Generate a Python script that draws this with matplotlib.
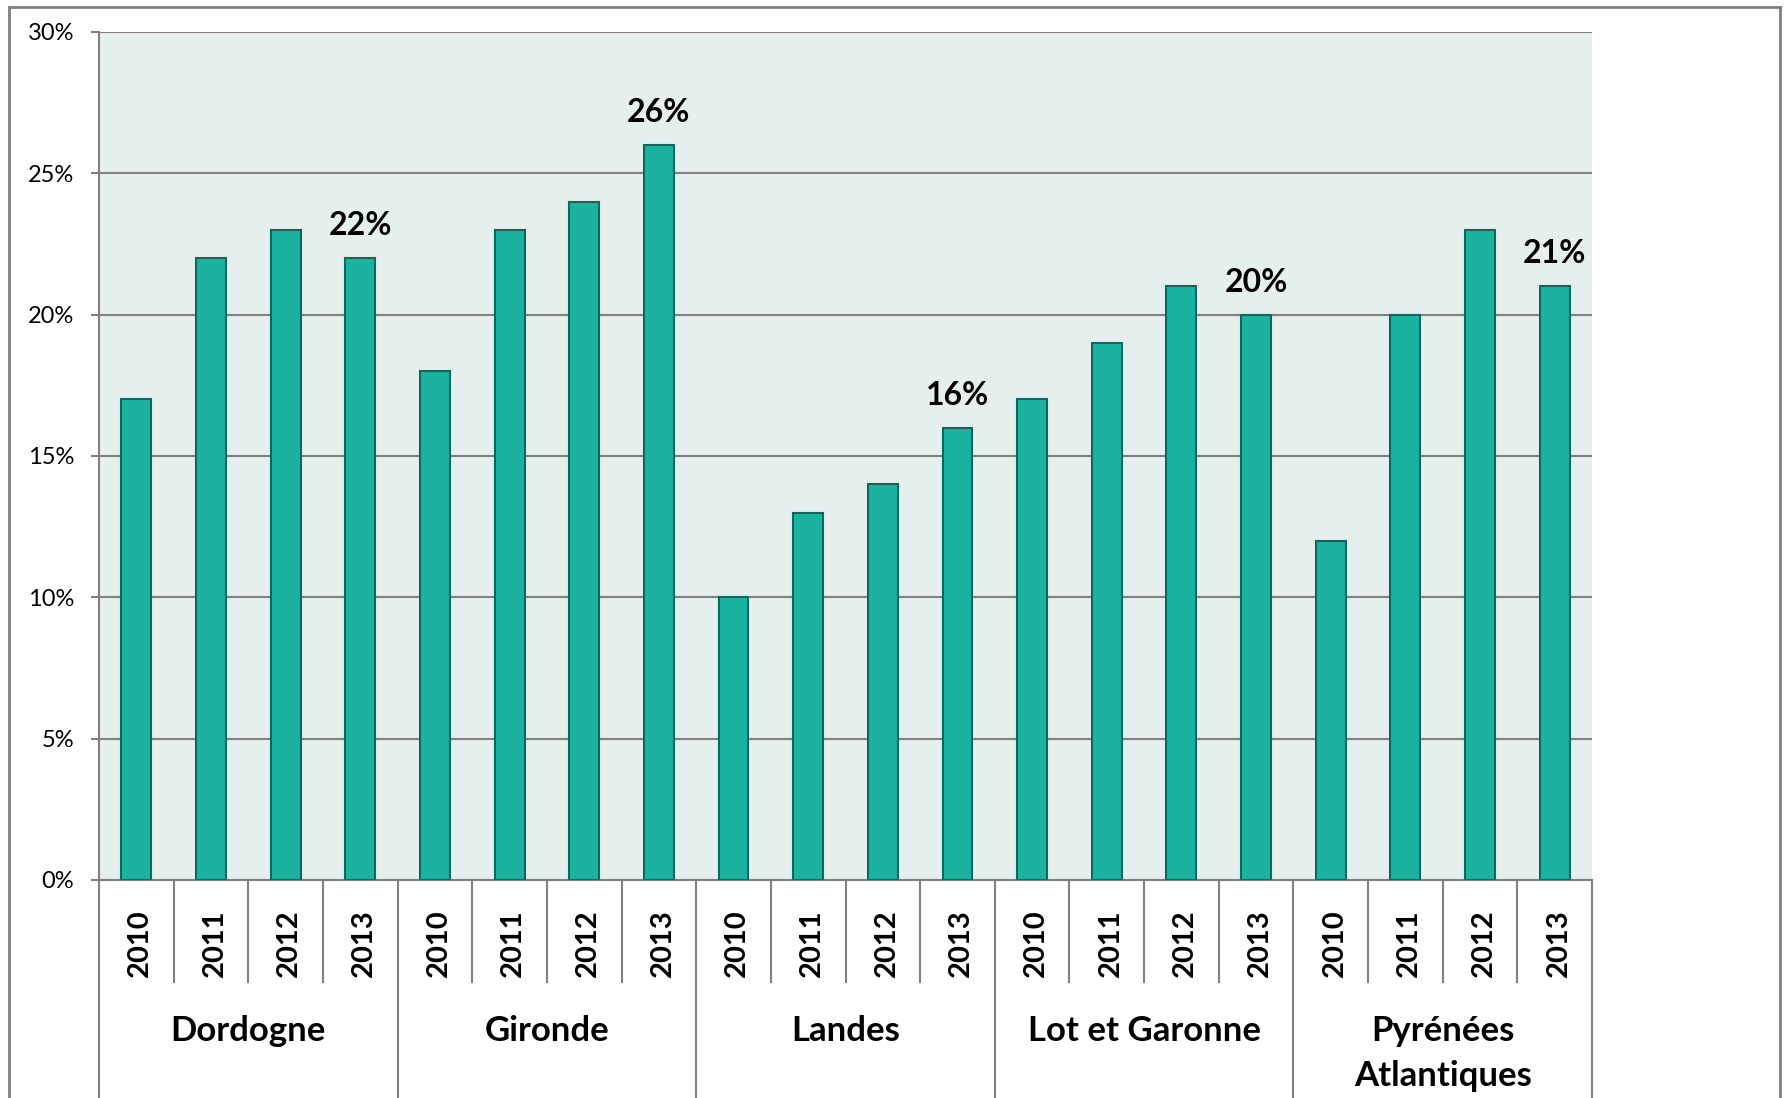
import matplotlib
matplotlib.use("Agg")
import matplotlib.pyplot as plt
from matplotlib.lines import Line2D
import numpy as np

plt.rcParams['font.family'] = ['Lato', 'DejaVu Sans']

departments = ["Dordogne", "Gironde", "Landes", "Lot et Garonne", "Pyrénées\nAtlantiques"]
years = ["2010", "2011", "2012", "2013"]
dordogne = [17, 22, 23, 22]
gironde = [18, 23, 24, 26]
landes = [10, 13, 14, 16]
lot_et_garonne = [17, 19, 21, 20]
pyrenees_atlantiques = [12, 20, 23, 21]
series = [dordogne, gironde, landes, lot_et_garonne, pyrenees_atlantiques]
yticks = [0, 5, 10, 15, 20, 25, 30]

W, H = 1789, 1098
fig = plt.figure(figsize=(W / 100, H / 100), dpi=100)
fig.patch.set_facecolor("white")

left_px, right_px, top_px, zero_px = 99, 1592, 32, 880
ax = fig.add_axes([left_px / W, 1 - zero_px / H, (right_px - left_px) / W, (zero_px - top_px) / H])
ax.set_facecolor("#e5f0ee")

values = [v for s in series for v in s]
x = np.arange(len(values))
bar_color = "#1bb39f"
edge_color = "#0c6a5c"
ax.bar(x, values, width=0.40, color=bar_color, edgecolor=edge_color, linewidth=1.5, zorder=3)

ax.set_xlim(-0.5, len(values) - 0.5)
ax.set_ylim(0, 30)
ax.set_yticks(yticks)
ax.set_yticklabels([f"{t}%" for t in yticks], fontsize=17)
ax.tick_params(axis='y', length=6, width=1.5, color="#7f7f7f", pad=12)
ax.set_xticks([])
ax.grid(axis='y', color="#808080", linewidth=1.5, zorder=1)
ax.set_axisbelow(True)
for s in ["top", "right"]:
    ax.spines[s].set_visible(False)
ax.spines["left"].set_color("#808080")
ax.spines["left"].set_linewidth(1.5)
ax.spines["bottom"].set_color("#808080")
ax.spines["bottom"].set_linewidth(1.5)

# data labels for last year of each department
for gi, s in enumerate(series):
    xi = gi * 4 + 3
    ax.annotate(f"{s[-1]}%", (xi, s[-1]), xytext=(0, 13), textcoords="offset points",
                ha="center", va="bottom", fontsize=23, fontweight="bold", color="black")

trans = ax.get_xaxis_transform()
ax_h = zero_px - top_px
def ay(py):
    return -(py - zero_px) / ax_h

# year labels
for i in range(len(values)):
    ax.text(x[i] + 0.05, ay(943), years[i % 4], rotation=90, ha="center", va="center",
            fontsize=21, fontweight="bold", transform=trans)

# separators
for b in range(len(values) + 1):
    xb = b - 0.5
    if b % 4 == 0:
        y1 = ay(1110)
    else:
        y1 = ay(982)
    ax.add_line(Line2D([xb, xb], [0, y1], transform=trans, color="#808080",
                       linewidth=1.5, clip_on=False))

# group labels
for gi, name in enumerate(departments):
    xc = gi * 4 + 1.5
    ax.text(xc, ay(1015), name, ha="center", va="top", fontsize=25, fontweight="bold",
            linespacing=1.5, transform=trans)

# outer frame
fx0, fx1, fy0 = 9 / W, 1780 / W, 1 - 7 / H
for xs, ys in [([fx0, fx0], [fy0, -0.1]), ([fx0, fx1], [fy0, fy0]), ([fx1, fx1], [fy0, -0.1])]:
    fig.add_artist(Line2D(xs, ys, transform=fig.transFigure, color="#7f7f7f", linewidth=2))

fig.savefig("out.png", dpi=100)
